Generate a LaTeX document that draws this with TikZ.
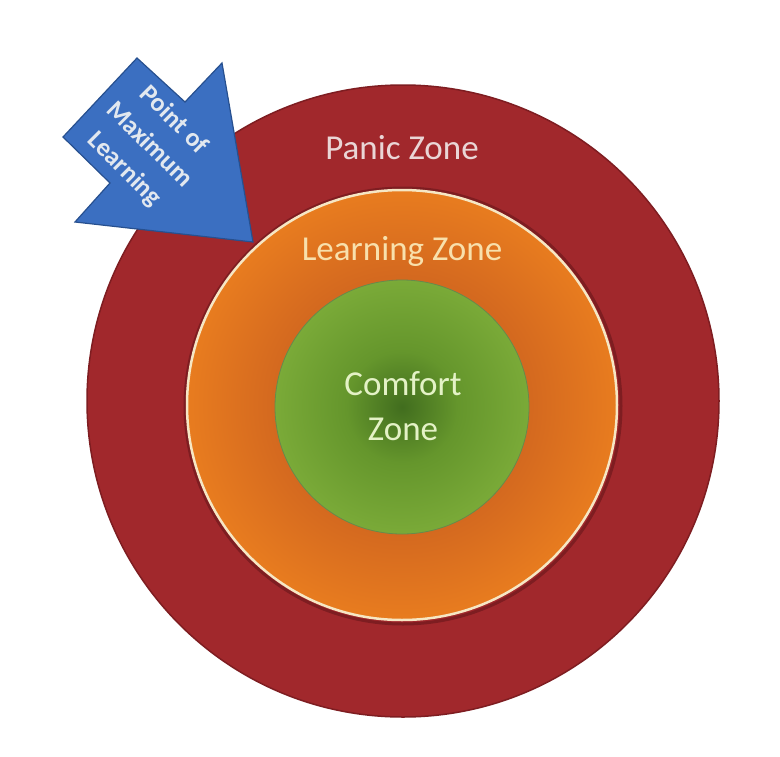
\documentclass[tikz,border=0pt]{standalone}
\usepackage{fontspec}
\setmainfont{Carlito}
\definecolor{panicred}{HTML}{A1282C}
\definecolor{panicedge}{HTML}{7E1D21}
\definecolor{learnout}{HTML}{E87C1F}
\definecolor{learnin}{HTML}{D4691F}
\definecolor{cream}{HTML}{F6E7C4}
\definecolor{greendark}{HTML}{416D1E}
\definecolor{greenmid}{HTML}{65962C}
\definecolor{greenlight}{HTML}{7AAA38}
\definecolor{arrowblue}{HTML}{3B6FC1}
\definecolor{arrowedge}{HTML}{27508F}
\definecolor{panictext}{HTML}{EAD6D6}
\definecolor{learntext}{HTML}{F8E0AC}
\definecolor{comforttext}{HTML}{E4F2C6}
\definecolor{arrowtext}{HTML}{E2E8EF}
\pgfdeclareradialshading{comfortshade}{\pgfpoint{0bp}{0bp}}{color(0bp)=(greendark); color(11bp)=(greenmid); color(25bp)=(greenlight); color(50bp)=(greenlight)}
\pgfdeclareradialshading{learnshade}{\pgfpoint{0bp}{0bp}}{color(0bp)=(learnin); color(15bp)=(learnin); color(25bp)=(learnout); color(50bp)=(learnout)}
\tikzset{
  zone/.style={circle, inner sep=0pt},
  zonelabel/.style={anchor=base, font=\fontsize{35}{44}\selectfont}
}
\begin{document}
\begin{tikzpicture}[x=1pt,y=-1pt]
\useasboundingbox (0,0) rectangle (780,756);
% panic zone
\node[zone, minimum size=632pt, fill=panicred, draw=panicedge, line width=1.5pt] (panic) at (403,401) {};
% shadow ring under learning zone
\node[zone, minimum size=436pt, draw=panicedge, line width=3pt] (learnshadow) at (403,406) {};
% learning zone
\node[zone, minimum size=430pt, shade, shading=learnshade, draw=cream, line width=2.5pt] (learning) at (402,405) {};
% comfort zone
\node[zone, minimum size=254pt, shade, shading=comfortshade, draw=greendark!80, line width=0.8pt] (comfort) at (402,407) {};
% labels
\node[zonelabel, text=panictext] (panictxt) at (402,159) {Panic Zone};
\node[zonelabel, text=learntext] (learntxt) at (402,260) {Learning Zone};
\node[zonelabel, text=comforttext] (comforttxt) at (403,395) {Comfort};
\node[zonelabel, text=comforttext] (zonetxt) at (403,440) {Zone};
% arrow
\coordinate (tip) at (253,242);
\coordinate (headtop) at (222,63);
\coordinate (notchtop) at (185,102);
\coordinate (backtop) at (137,58);
\coordinate (backleft) at (63,137);
\coordinate (notchlow) at (110,183);
\coordinate (headlow) at (75,222);
\draw[fill=arrowblue, draw=arrowedge, line width=1.2pt, line join=miter]
  (tip) -- (headtop) -- (notchtop) -- (backtop) -- (backleft) -- (notchlow) -- (headlow) -- cycle;
\node[rotate=-45, align=center, text=arrowtext, font=\bfseries\fontsize{26}{35}\selectfont] (pml) at (149,145) {Point of\\Maximum\\Learning};
\end{tikzpicture}
\end{document}
